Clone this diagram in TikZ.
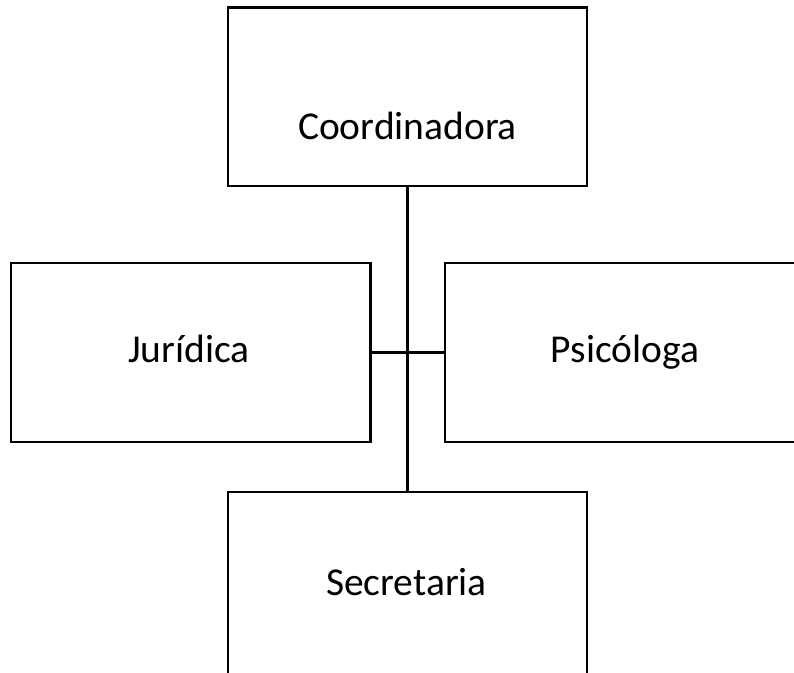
\documentclass[tikz,border=0pt]{standalone}
\usepackage{fontspec}
\setmainfont{Carlito}
\begin{document}
\begin{tikzpicture}[x=1pt,y=-1pt,
  box/.style={draw=black,line width=2.3pt,fill=white,inner sep=0pt,rectangle},
  lbl/.style={anchor=base,inner sep=0pt,font=\fontsize{39.5}{46}\selectfont},
  link/.style={draw=black,line width=2.3pt}]
\useasboundingbox (0,0) rectangle (794,672);
\clip (0,0) rectangle (794,672);
% org chart boxes
\node[box,minimum width=359pt,minimum height=178.5pt] (coord) at (407.5,96.75) {};
\node[box,minimum width=359.5pt,minimum height=179pt] (jur) at (190.75,352.5) {};
\node[box,minimum width=360pt,minimum height=179pt] (psi) at (625,352.5) {};
\node[box,minimum width=359pt,minimum height=188pt] (sec) at (407.5,586) {};
% connectors
\draw[link] (coord.south) -- (sec.north);
\draw[link] (jur.east) -- (psi.west);
% labels
\node[lbl] (tcoord) at (407.5,139) {Coordinadora};
\node[lbl] (tjur) at (189,362) {Jurídica};
\node[lbl] (tpsi) at (625,362) {Psicóloga};
\node[lbl] (tsec) at (406.5,595) {Secretaria};
\end{tikzpicture}
\end{document}
